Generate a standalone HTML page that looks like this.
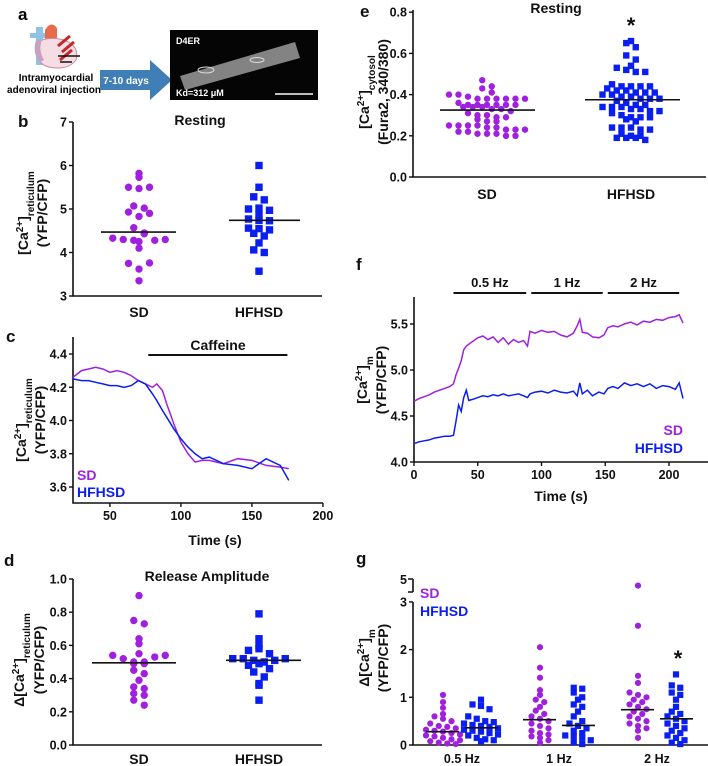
<!DOCTYPE html>
<html><head><meta charset="utf-8">
<style>
html,body{margin:0;padding:0;background:#fff;}
svg{display:block;font-family:"Liberation Sans",Arial,sans-serif;font-weight:bold;}
</style></head>
<body>
<svg id="fig" width="708" height="766" viewBox="0 0 708 766" xmlns="http://www.w3.org/2000/svg">
<g>
<text x="18" y="20" font-size="17">a</text>
<g>
<rect x="36" y="27" width="7" height="38" fill="#8fc3e6"/>
<rect x="30" y="33" width="22" height="5" fill="#8fc3e6"/>
<path d="M45 30 q6 -10 12 -2 l0 10 l-12 2z" fill="#e86b4a"/>
<path d="M38 42 q10 -6 26 -2 q16 6 12 20 q-6 8 -18 8 q-20 0 -20 -14z" fill="#f6dde3" stroke="#c98aa0" stroke-width="1"/>
<path d="M36 40 q-4 14 4 22 l4 -2 q-6 -10 -2 -20z" fill="#c8a0c0"/>
<path d="M58 46 l12 -10 M62 52 l12 -10 M60 60 l12 -10" stroke="#c0282a" stroke-width="3"/>
<path d="M58 56 l22 0 M60 62 l12 0" stroke="#111" stroke-width="1.5"/>
</g>
<text x="56" y="81" font-size="10" text-anchor="middle">Intramyocardial</text>
<text x="54" y="93" font-size="10" text-anchor="middle">adenoviral injection</text>
<path d="M100 70 L150 70 L150 60 L172 80 L150 100 L150 90 L100 90 Z" fill="#3f7fb5"/>
<text x="126" y="84" font-size="10" fill="#fff" text-anchor="middle">7-10 days</text>
<rect x="170" y="30" width="148" height="70" fill="#050505"/>
<path d="M180 76 L295 42 L300 58 L185 90 Z" fill="#9a9a9a" opacity="0.85"/>
<ellipse cx="206" cy="70" rx="8" ry="3" fill="none" stroke="#ddd"/>
<ellipse cx="257" cy="60" rx="7" ry="2.5" fill="none" stroke="#ddd"/>
<text x="176" y="44" font-size="9" fill="#fff">D4ER</text>
<text x="176" y="96" font-size="9" fill="#fff">Kd=312 μM</text>
<line x1="275" y1="94" x2="313" y2="94" stroke="#fff" stroke-width="1.5"/>
</g>
<g id="dyn"></g>
</svg>
<script>
// ---------- DATA ----------
const groupsB = ["SD","HFHSD"];
const bSD = [5.82,5.73,5.5,5.47,5.5,5.07,4.93,4.83,4.9,5.02,4.57,4.45,4.33,4.3,4.28,4.43,4.25,4.28,4.3,4.1,3.75,3.62,3.76,3.35];
const bHF = [6.0,5.5,5.28,5.21,5.0,5.02,4.97,4.87,4.77,4.74,4.73,4.56,4.55,4.52,4.44,4.38,4.22,4.06,4.0,3.57];
const bMeans = [4.47,4.74];
const bTicks = [3,4,5,6,7];

const cTime = [24,30,35,40,45,50,55,60,65,70,75,80,83,87,90,95,100,105,110,115,120,130,140,150,160,170,176];
const cSD = [4.26,4.30,4.31,4.32,4.31,4.29,4.30,4.29,4.27,4.24,4.22,4.20,4.22,4.18,4.10,3.98,3.87,3.80,3.75,3.76,3.76,3.74,3.77,3.76,3.73,3.72,3.71];
const cHF = [4.25,4.24,4.24,4.23,4.22,4.21,4.21,4.20,4.21,4.24,4.22,4.16,4.12,4.06,4.02,3.95,3.89,3.84,3.80,3.77,3.78,3.74,3.73,3.71,3.77,3.73,3.64];
const cYTicks = [3.6,3.8,4.0,4.2,4.4];
const cXTicks = [50,100,150,200];
const cCaffeine = [77,175];

const dSD = [0.9,0.75,0.73,0.64,0.61,0.55,0.54,0.52,0.5,0.49,0.49,0.50,0.53,0.54,0.45,0.43,0.39,0.35,0.34,0.31,0.30,0.27,0.24];
const dHF = [0.79,0.64,0.60,0.57,0.58,0.55,0.52,0.52,0.51,0.50,0.51,0.52,0.48,0.49,0.46,0.44,0.41,0.37,0.36,0.27];
const dMeans = [0.495,0.51];
const dTicks = [0.0,0.2,0.4,0.6,0.8,1.0];

const eSD = [.47,.44,.43,.41,.40,.40,.39,.38,.38,.38,.38,.38,.38,.36,.35,.35,.35,.35,.35,.35,.34,.34,.34,.33,.33,.32,.31,.30,.30,.29,.29,.28,.27,.27,.25,.25,.25,.25,.24,.24,.23,.23,.23,.22,.22,.21,.21,.21,.20,.20];
const eHF = [.66,.65,.63,.59,.57,.54,.53,.52,.51,.51,.45,.44,.44,.44,.44,.43,.42,.42,.41,.41,.41,.40,.40,.39,.39,.38,.38,.38,.37,.36,.35,.35,.34,.34,.34,.33,.33,.32,.32,.31,.30,.29,.29,.29,.28,.27,.24,.24,.24,.23,.23,.21,.20,.20,.19,.19,.19,.18];
const eMeans = [0.325,0.375];
const eTicks = [0.0,0.2,0.4,0.6,0.8];

const fTime = [0,4,8,12,16,20,24,28,31,33,35,37,39,41,43,46,50,54,58,62,66,70,74,78,82,86,89,91,95,100,105,110,115,120,125,128,130,132,136,140,145,149,152,156,160,165,170,175,180,185,190,195,200,205,208,211];
const fSD = [4.66,4.69,4.71,4.73,4.76,4.78,4.80,4.82,4.85,4.95,5.02,5.10,5.22,5.26,5.28,5.31,5.35,5.37,5.33,5.36,5.30,5.35,5.28,5.33,5.30,5.32,5.26,5.42,5.40,5.43,5.41,5.42,5.38,5.36,5.40,5.48,5.55,5.41,5.40,5.36,5.35,5.38,5.46,5.48,5.47,5.50,5.52,5.49,5.53,5.52,5.55,5.54,5.57,5.58,5.60,5.51];
const fHF = [4.20,4.22,4.23,4.24,4.26,4.27,4.28,4.28,4.29,4.45,4.62,4.55,4.70,4.78,4.67,4.68,4.70,4.72,4.71,4.73,4.72,4.74,4.72,4.73,4.74,4.72,4.70,4.74,4.76,4.77,4.75,4.78,4.76,4.75,4.77,4.72,4.86,4.74,4.78,4.72,4.76,4.74,4.80,4.82,4.80,4.86,4.83,4.85,4.82,4.85,4.80,4.83,4.82,4.79,4.86,4.69];
const fYTicks = [4.0,4.5,5.0,5.5];
const fXTicks = [0,50,100,150,200];
const fPhases = ["0.5 Hz","1 Hz","2 Hz"];
const fPhaseStart = [31,92,152];
const fPhaseEnd = [88,148,208];

const gFreq = ["0.5 Hz","1 Hz","2 Hz"];
const gSD05 = [1.05,0.9,0.78,0.65,0.6,0.55,0.5,0.45,0.4,0.38,0.35,0.32,0.3,0.28,0.25,0.22,0.2,0.18,0.15,0.12,0.1,0.08,0.05,0.03,0.02];
const gHF05 = [0.95,0.85,0.82,0.75,0.6,0.55,0.5,0.48,0.45,0.42,0.4,0.38,0.35,0.32,0.3,0.28,0.25,0.22,0.2,0.15,0.12,0.1,0.08];
const gSD1 = [2.05,1.62,1.41,1.15,1.05,0.95,0.9,0.8,0.72,0.65,0.6,0.55,0.5,0.45,0.4,0.35,0.3,0.25,0.22,0.18,0.15,0.1,0.05];
const gHF1 = [1.2,1.18,1.1,1.0,0.95,0.85,0.8,0.7,0.6,0.5,0.45,0.4,0.35,0.3,0.25,0.2,0.18,0.15,0.1,0.05,0.02];
const gSD2 = [4.4,2.5,1.45,1.3,1.1,1.05,1.0,0.95,0.9,0.85,0.8,0.75,0.7,0.65,0.6,0.55,0.5,0.45,0.4,0.35,0.3,0.15];
const gHF2 = [1.48,1.25,1.2,1.1,1.05,0.95,0.8,0.7,0.65,0.6,0.55,0.5,0.45,0.4,0.35,0.3,0.25,0.2,0.15,0.1,0.05,0.02];
const gMeans = [0.28,0.36,0.53,0.41,0.74,0.55];
const gTicks = [0,1,2,3];

// ---------- DRAWING ----------
const NS = "http://www.w3.org/2000/svg";
const root = document.getElementById("dyn");
const PURPLE = "#a020e0", BLUE = "#0a1ef0";
function mk(tag, attrs, parent, txt){
  const e = document.createElementNS(NS, tag);
  for (const k in attrs) e.setAttribute(k, attrs[k]);
  if (txt !== undefined) e.textContent = txt;
  (parent || root).appendChild(e);
  return e;
}
function label(x,y,txt,size,anchor,fill,name){
  const t = mk("text",{x:x,y:y,"font-size":size,"text-anchor":anchor||"middle",fill:fill||"#111"},root,txt);
  
  
  return t;
}
function axes(x0,yTop,yBot,xEnd,name){
  const a = mk("path",{d:`M${x0} ${yTop} L${x0} ${yBot} L${xEnd} ${yBot}`,stroke:"#111","stroke-width":1.6,fill:"none"});
  
  
}
function yTicks(x0,ticks,ys,fmt,name){
  ticks.forEach(v=>{
    const y = ys(v);
    const l = mk("line",{x1:x0-4,y1:y,x2:x0,y2:y,stroke:"#111","stroke-width":1.4});
    
    
    label(x0-6,y+4.5,fmt(v),12.5,"end","#111",name+'-tick-label');
  });
}
function xTicks(yb,ticks,xs,name){
  ticks.forEach(v=>{
    const x = xs(v);
    const l = mk("line",{x1:x,y1:yb,x2:x,y2:yb+4,stroke:"#111","stroke-width":1.4});
    
    
    label(x,yb+17,String(v),12.5,"middle","#111",name+'-tick-label');
  });
}
// Prism-style scatter: points binned into rows by y, rows spread horizontally
function swarm(vals,cx,ys,d,shape,color,name,sp){
  const spacing = sp || d*1.45;
  const rows = {};
  vals.forEach(v=>{
    const y = ys(v);
    const k = Math.round(y/d);
    (rows[k] = rows[k] || []).push(y);
  });
  Object.keys(rows).forEach(k=>{
    const r = rows[k];
    const n = r.length;
    r.forEach((y,i)=>{
      const x = cx + (i-(n-1)/2)*spacing;
      let m;
      if(shape==="c") m = mk("circle",{cx:x,cy:y,r:d/2,fill:color});
      else m = mk("rect",{x:x-d/2,y:y-d/2,width:d,height:d,fill:color});
      
      
    });
  });
}
function meanLine(x1,x2,y,name){
  const l = mk("line",{x1:x1,y1:y,x2:x2,y2:y,stroke:"#111","stroke-width":1.6});
  
  
}
function series(ts,vs,xs,ys,color,name){
  const d = ts.map((t,i)=>(i?"L":"M")+xs(t).toFixed(1)+" "+ys(vs[i]).toFixed(1)).join(" ");
  const p = mk("path",{d:d,stroke:color,"stroke-width":1.5,fill:"none"});
  
  
}
function yTitle(x,cy,parts,name,size){
  const t = mk("text",{transform:`translate(${x},${cy}) rotate(-90)`,"text-anchor":"middle","font-size":size||14,fill:"#111"});
  
  
  parts.forEach(p=>{
    const s = mk("tspan",{},t,p[0]);
    if(p[1]==="sup"){s.setAttribute("baseline-shift","super");s.setAttribute("font-size","10");}
    if(p[1]==="sub"){s.setAttribute("baseline-shift","sub");s.setAttribute("font-size","10");}
  });
}
const f1 = v=>v.toFixed(1), f0 = v=>String(v);

// ---- panel b ----
label(18,127,"b",17,"start","#111","panel-label-b");
const yB = v=>296-(v-3)*43.5;
axes(73,122,296,322,"axes-b");
yTicks(73,bTicks,yB,f0,"y-axis-b");
label(200,125,"Resting",14,"middle","#111","title-b");
swarm(bSD,139,yB,7.4,"c",PURPLE,"point-b-sd",10.5);
swarm(bHF,259,yB,7.4,"s",BLUE,"point-b-hfhsd",10.5);
meanLine(101,176,yB(bMeans[0]),"mean-b-sd");
meanLine(229,300,yB(bMeans[1]),"mean-b-hfhsd");
label(139,317,groupsB[0],14,"middle","#111","x-label-b-sd");
label(259,317,groupsB[1],14,"middle","#111","x-label-b-hfhsd");
yTitle(28,213,[["[Ca"],["2+","sup"],["]"],["reticulum","sub"]],"y-axis-title-b");
yTitle(47,213,[["(YFP/CFP)"]],"y-axis-subtitle-b");

// ---- panel c ----
label(6,342,"c",17,"start","#111","panel-label-c");
const xC = t=>73+(t-24)*1.42, yC = v=>354+(4.4-v)*166.25;
axes(73,337,503,323,"axes-c");
yTicks(73,cYTicks,yC,f1,"y-axis-c");
xTicks(503,cXTicks,xC,"x-axis-c");
const cb = mk("line",{x1:xC(cCaffeine[0]),y1:355,x2:xC(cCaffeine[1]),y2:355,stroke:"#111","stroke-width":2});


label(218,350,"Caffeine",14,"middle","#111","caffeine-label");
series(cTime,cSD,xC,yC,PURPLE,"line-c-sd");
series(cTime,cHF,xC,yC,BLUE,"line-c-hfhsd");
label(77,480,"SD",14,"start",PURPLE,"legend-c-sd");
label(77,497,"HFHSD",14,"start",BLUE,"legend-c-hfhsd");
label(215,545,"Time (s)",14,"middle","#111","x-axis-title-c");
yTitle(26,420,[["[Ca"],["2+","sup"],["]"],["reticulum","sub"]],"y-axis-title-c");
yTitle(45,420,[["(YFP/CFP)"]],"y-axis-subtitle-c");

// ---- panel d ----
label(4,566,"d",17,"start","#111","panel-label-d");
const yD = v=>745-v*166;
axes(73,579,745,322,"axes-d");
yTicks(73,dTicks,yD,f1,"y-axis-d");
label(207,581,"Release Amplitude",14,"middle","#111","title-d");
swarm(dSD,139,yD,7.4,"c",PURPLE,"point-d-sd",10.5);
swarm(dHF,259,yD,7.4,"s",BLUE,"point-d-hfhsd",10.5);
meanLine(92,176,yD(dMeans[0]),"mean-d-sd");
meanLine(226,301,yD(dMeans[1]),"mean-d-hfhsd");
label(139,764,groupsB[0],14,"middle","#111","x-label-d-sd");
label(259,764,groupsB[1],14,"middle","#111","x-label-d-hfhsd");
yTitle(24,660,[["Δ[Ca"],["2+","sup"],["]"],["reticulum","sub"]],"y-axis-title-d");
yTitle(44,660,[["(YFP/CFP)"]],"y-axis-subtitle-d");

// ---- panel e ----
label(360,17,"e",17,"start","#111","panel-label-e");
const yE = v=>177-v*206;
axes(413,10,177,706,"axes-e");
yTicks(413,eTicks,yE,f1,"y-axis-e");
label(556,13,"Resting",14,"middle","#111","title-e");
label(631,33,"*",22,"middle","#111","significance-e");
swarm(eSD,487,yE,6.4,"c",PURPLE,"point-e-sd",9.5);
swarm(eHF,631,yE,6.4,"s",BLUE,"point-e-hfhsd",9.5);
meanLine(440,535,yE(eMeans[0]),"mean-e-sd");
meanLine(585,680,yE(eMeans[1]),"mean-e-hfhsd");
label(487,199,"SD",14,"middle","#111","x-label-e-sd");
label(631,199,"HFHSD",14,"middle","#111","x-label-e-hfhsd");
yTitle(369,92,[["[Ca"],["2+","sup"],["]"],["cytosol","sub"]],"y-axis-title-e");
yTitle(388,92,[["(Fura2, 340/380)"]],"y-axis-subtitle-e");

// ---- panel f ----
label(356,270,"f",17,"start","#111","panel-label-f");
const xF = t=>414+t*1.275, yF = v=>462-(v-4)*92;
axes(414,297,462,708,"axes-f");
yTicks(414,fYTicks,yF,f1,"y-axis-f");
xTicks(462,fXTicks,xF,"x-axis-f");
fPhases.forEach((p,i)=>{
  const l = mk("line",{x1:xF(fPhaseStart[i]),y1:293,x2:xF(fPhaseEnd[i]),y2:293,stroke:"#111","stroke-width":2});
  
  
  label((xF(fPhaseStart[i])+xF(fPhaseEnd[i]))/2,287,p,13,"middle","#111","stim-label");
});
series(fTime,fSD,xF,yF,PURPLE,"line-f-sd");
series(fTime,fHF,xF,yF,BLUE,"line-f-hfhsd");
label(683,435,"SD",14,"end",PURPLE,"legend-f-sd");
label(683,453,"HFHSD",14,"end",BLUE,"legend-f-hfhsd");
label(561,501,"Time (s)",14,"middle","#111","x-axis-title-f");
yTitle(367,380,[["[Ca"],["2+","sup"],["]"],["m","sub"]],"y-axis-title-f");
yTitle(386,380,[["(YFP/CFP)"]],"y-axis-subtitle-f");

// ---- panel g ----
label(356,564,"g",17,"start","#111","panel-label-g");
const yG = v=> v<=3 ? 745-v*47.7 : 579+(5-v)*11;
axes(413,602,745,708,"axes-g");
const gb = mk("path",{d:"M413 579 L413 592 M408 579 L413 579 M408 592 L413 592",stroke:"#111","stroke-width":1.6,fill:"none"});


label(407,584,"5",12.5,"end","#111","y-axis-g-tick-label");
yTicks(413,gTicks,yG,f0,"y-axis-g");
const gGroups = [[gSD05,gHF05],[gSD1,gHF1],[gSD2,gHF2]];
const gCenters = [462,559,657];
gGroups.forEach((gr,i)=>{
  const c = gCenters[i];
  swarm(gr[0],c-19,yG,6.2,"c",PURPLE,"point-g-sd",8.5);
  swarm(gr[1],c+19,yG,6.2,"s",BLUE,"point-g-hfhsd",8.5);
  meanLine(c-36,c-3,yG(gMeans[i*2]),"mean-g-sd");
  meanLine(c+3,c+36,yG(gMeans[i*2+1]),"mean-g-hfhsd");
  label(c,763,gFreq[i],12.5,"middle","#111","x-label-g");
});
label(678,666,"*",22,"middle","#111","significance-g");
label(420,598,"SD",14,"start",PURPLE,"legend-g-sd");
label(420,616,"HFHSD",14,"start",BLUE,"legend-g-hfhsd");
yTitle(369,658,[["Δ[Ca"],["2+","sup"],["]"],["m","sub"]],"y-axis-title-g");
yTitle(388,658,[["(YFP/CFP)"]],"y-axis-subtitle-g");
</script>
</body></html>
